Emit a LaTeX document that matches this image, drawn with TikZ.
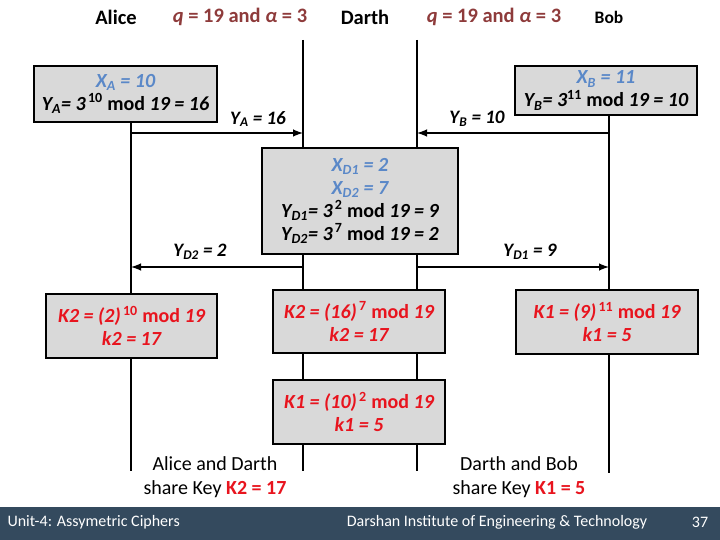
\documentclass[tikz,border=0pt]{standalone}
\usepackage{fontspec}
\setmainfont{Carlito}
\definecolor{keyred}{HTML}{E8141E}
\definecolor{privblue}{HTML}{5A88C8}
\definecolor{paramred}{HTML}{8E3B3B}
\definecolor{boxgray}{HTML}{D9D9D9}
\definecolor{footband}{HTML}{344A5E}
\begin{document}
\begin{tikzpicture}[x = 1pt, y = -1pt, line width = 2.4pt,
                        calc/.style = {draw, fill = boxgray, line width = 2.6pt, align = center, inner sep = 0pt,
                                       font = \fontsize{20}{23}\selectfont\bfseries},
                        keycalc/.style = {calc, text = keyred},
                        head/.style = {font = \fontsize{20.5}{22}\selectfont\bfseries},
                        msg/.style = {font = \fontsize{19}{21}\selectfont\bfseries\itshape},
                        share/.style = {align = center, font = \fontsize{20}{24}\selectfont},
                        foot/.style = {text = white, font = \fontsize{16}{18}\selectfont}]
      \useasboundingbox (0, 0) rectangle (720, 540);

      \node [head] (alice) at (116, 17) {Alice};
      \node [head, text = paramred] (paramA) at (240, 17) {\textit{q} = 19 and \textit{α} = 3};
      \node [head] (darth) at (365, 17) {Darth};
      \node [head, text = paramred] (paramB) at (494, 17) {\textit{q} = 19 and \textit{α} = 3};
      \node [head, font = \fontsize{17.5}{19}\selectfont\bfseries] (bob) at (609, 17) {Bob};

      \coordinate (a0) at (131, 122);
      \coordinate (a1) at (131, 133);
      \coordinate (a2) at (131, 267);
      \coordinate (a3) at (131, 471);
      \coordinate (d0) at (303, 40);
      \coordinate (d1) at (303, 133);
      \coordinate (d2) at (303, 267);
      \coordinate (d3) at (303, 471);
      \coordinate (e0) at (417, 40);
      \coordinate (e1) at (417, 133);
      \coordinate (e2) at (417, 267);
      \coordinate (e3) at (417, 471);
      \coordinate (b0) at (609, 115);
      \coordinate (b1) at (609, 133);
      \coordinate (b2) at (609, 267);
      \coordinate (b3) at (609, 473);

      \draw (a0) -- (a3);
      \draw (d0) -- (d3);
      \draw (e0) -- (e3);
      \draw (b0) -- (b3);

      \draw [-latex] (a1) -- (d1);
      \draw [-latex] (b1) -- (e1);
      \draw [-latex] (d2) -- (a2);
      \draw [-latex] (e2) -- (b2);

      \node [msg] (ya) at (258, 119) {Y\textsubscript{A} = 16};
      \node [msg] (yb) at (477, 119) {Y\textsubscript{B} = 10};
      \node [msg] (yd2) at (200, 252) {Y\textsubscript{D2} = 2};
      \node [msg] (yd1) at (530, 252) {Y\textsubscript{D1} = 9};

      \node [calc, minimum width = 183, minimum height = 56] (alicebox) at (125.5, 94)
            {\textcolor{privblue}{\itshape X\textsubscript{A} = 10}\\
             {\itshape Y\textsubscript{A}= 3}\textsuperscript{\,10} mod {\itshape 19 = 16}};
      \node [calc, minimum width = 182, minimum height = 49] (bobbox) at (606, 90.5)
            {\textcolor{privblue}{\itshape X\textsubscript{B} = 11}\\
             {\itshape Y\textsubscript{B}= 3}\textsuperscript{11} mod {\itshape 19 = 10}};
      \node [calc, minimum width = 196, minimum height = 106] (darthbox) at (360, 201)
            {\textcolor{privblue}{\itshape X\textsubscript{D1} = 2}\\
             \textcolor{privblue}{\itshape X\textsubscript{D2} = 7}\\
             {\itshape Y\textsubscript{D1}= 3}\textsuperscript{\,2} mod {\itshape 19 = 9}\\
             {\itshape Y\textsubscript{D2}= 3}\textsuperscript{\,7} mod {\itshape 19 = 2}};

      \node [keycalc, minimum width = 171, minimum height = 64] (alicekey) at (131.5, 326)
            {{\itshape K2 = (2)}\textsuperscript{\,10} mod {\itshape 19}\\ {\itshape k2 = 17}};
      \node [keycalc, minimum width = 172, minimum height = 63] (darthkeyA) at (359, 321.5)
            {{\itshape K2 = (16)}\textsuperscript{\,7} mod {\itshape 19}\\ {\itshape k2 = 17}};
      \node [keycalc, minimum width = 182, minimum height = 64] (bobkey) at (607, 322)
            {{\itshape K1 = (9)}\textsuperscript{\,11} mod {\itshape 19}\\ {\itshape k1 = 5}};
      \node [keycalc, minimum width = 172, minimum height = 64] (darthkeyB) at (359, 412)
            {{\itshape K1 = (10)}\textsuperscript{\,2} mod {\itshape 19}\\ {\itshape k1 = 5}};

      \node [share] (shareA) at (215, 477)
            {Alice and Darth\\ share Key \textcolor{keyred}{\bfseries K2 = 17}};
      \node [share] (shareB) at (519, 477)
            {Darth and Bob\\ share Key \textcolor{keyred}{\bfseries K1 = 5}};

      \fill [footband] (0, 507) rectangle (720, 540);
      \node [foot, anchor = west] (unit) at (3, 522) {Unit-4: Assymetric Ciphers};
      \node [foot] (inst) at (497, 522) {Darshan Institute of Engineering \& Technology};
      \node [foot] (page) at (700, 522) {37};
\end{tikzpicture}
\end{document}
